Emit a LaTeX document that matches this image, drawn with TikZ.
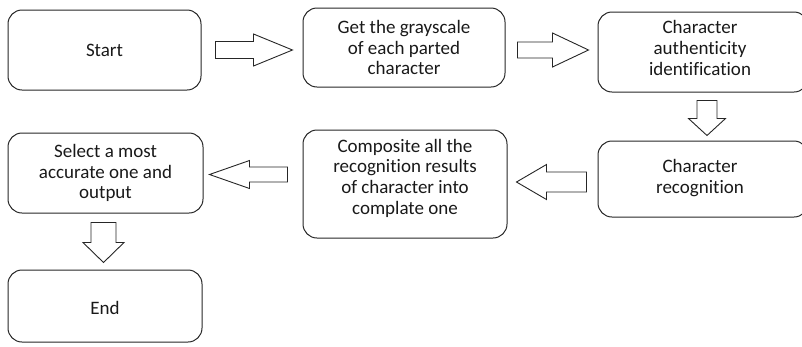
\documentclass[tikz,border=0pt]{standalone}
\usepackage{fontspec}
\setmainfont{Carlito}[Ligatures=NoCommon]
\usetikzlibrary{calc}
\tikzset{
  box/.style={draw=black!85, line width=1pt, rounded corners=14pt, inner sep=0pt},
  txt/.style={align=center, inner sep=0pt, font=\fontsize{19}{20.7}\selectfont, text=black!90},
  arrowline/.style={draw=black!85, line width=0.9pt, fill=white, line join=miter}
}
% #1 tail coordinate, #2 angle, #3 length, #4 shaft half, #5 head half, #6 head length
\newcommand\blockarrow[6]{%
  \draw[arrowline, shift={(#1)}, rotate=#2] (0,-#4) -- ({#3-#6},-#4) -- ({#3-#6},-#5) -- (#3,0) -- ({#3-#6},#5) -- ({#3-#6},#4) -- (0,#4) -- cycle;}
\begin{document}
\begin{tikzpicture}[x=1pt,y=-1pt]
\useasboundingbox (0,0) rectangle (802,346);
\clip (0,0) rectangle (802,346);
% boxes
\node[box, minimum width=193pt, minimum height=80pt] (b1) at (104.5,50) {};
\node[box, minimum width=202pt, minimum height=79pt] (b2) at (404,47.5) {};
\node[box, minimum width=210pt, minimum height=80pt] (b3) at (703,52) {};
\node[box, minimum width=210pt, minimum height=76pt] (b4) at (703,179) {};
\node[box, minimum width=204pt, minimum height=108pt] (b5) at (405,184) {};
\node[box, minimum width=195pt, minimum height=80pt] (b6) at (105.5,173) {};
\node[box, minimum width=194pt, minimum height=72pt] (b7) at (105,306) {};
% texts
\node[txt] (t1) at (b1.center) {Start};
\node[txt] (t2) at (b2.center) {Get the grayscale\\of each parted\\character};
\node[txt] (t3) at ([xshift=-3pt,yshift=4pt]b3.center) {Character\\authenticity\\identification};
\node[txt] (t4) at ([xshift=-3pt,yshift=1pt]b4.center) {Character\\recognition};
\node[txt] (t5) at ([yshift=6pt]b5.center) {Composite all the\\recognition results\\of character into\\complate one};
\node[txt] (t6) at (b6.center) {Select a most\\accurate one and\\output};
\node[txt] (t7) at ([yshift=-2pt]b7.center) {End};
% block arrows
\coordinate (a1) at ([xshift=14pt]b1.east);
\coordinate (a2) at ([xshift=12pt,yshift=-2.5pt]b2.east);
\coordinate (a3) at ([xshift=4pt,yshift=-8pt]b3.south);
\coordinate (a4) at ([xshift=-11pt,yshift=-3pt]b4.west);
\coordinate (a5) at ([xshift=-15pt,yshift=9.5pt]b5.west);
\coordinate (a6) at ([xshift=-2pt,yshift=-9pt]b6.south);
\blockarrow{a1}{0}{77}{8.5}{16}{39}
\blockarrow{a2}{0}{71}{8}{17}{36}
\blockarrow{a3}{-90}{35}{10}{18.5}{17}
\blockarrow{a4}{180}{70}{10}{17.5}{30}
\blockarrow{a5}{180}{78}{7.5}{14}{40}
\blockarrow{a6}{-90}{40}{12.5}{20.5}{20}
\end{tikzpicture}
\end{document}
